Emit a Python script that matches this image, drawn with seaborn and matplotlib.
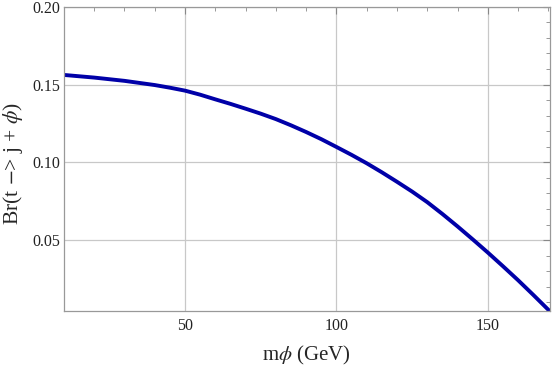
import numpy as np
import pandas as pd
import matplotlib
matplotlib.use("Agg")
import matplotlib.pyplot as plt
import seaborn as sns
from matplotlib.ticker import MultipleLocator

# values
m_phi = [10, 20, 30, 40, 45, 50, 55, 60, 65, 70, 75, 80, 85, 90, 95, 100, 105, 110, 115,
         120, 125, 130, 135, 140, 145, 150, 155, 160, 165, 170.3]
br = [0.1562, 0.1545, 0.1524, 0.1497, 0.1480, 0.1461, 0.1435, 0.1405, 0.1376, 0.1345,
      0.1313, 0.1278, 0.1238, 0.1195, 0.1149, 0.1099, 0.1048, 0.0994, 0.0936, 0.0875,
      0.0812, 0.0744, 0.0668, 0.0588, 0.0505, 0.0420, 0.0332, 0.0242, 0.0148, 0.0046]

x_ticks = [50, 100, 150]
y_ticks = [0.05, 0.10, 0.15, 0.20]
y_labels = ["0.05", "0.10", "0.15", "0.20"]

df = pd.DataFrame({"m": m_phi, "br": br})

sns.set_style("white")
plt.rcParams['font.family'] = ['Liberation Serif', 'DejaVu Serif']
plt.rcParams['mathtext.fontset'] = 'stix'

fig = plt.figure(figsize=(5.56, 3.67), dpi=100)
ax = fig.add_axes([0.115, 0.1534, 0.874, 0.828])

sns.lineplot(data=df, x="m", y="br", ax=ax, color="#0000a8", linewidth=2.8)

ax.set_xlim(10, 170.5)
ax.set_ylim(0.0046, 0.20)
ax.set_xticks(x_ticks)
ax.set_yticks(y_ticks)
ax.set_yticklabels(y_labels)
ax.xaxis.set_minor_locator(MultipleLocator(10))
ax.yaxis.set_minor_locator(MultipleLocator(0.01))

ax.grid(True, which="major", color="#c8c8c8", linewidth=0.9)
ax.set_axisbelow(True)
for s in ax.spines.values():
    s.set_color("#999999")
    s.set_linewidth(0.9)

ax.tick_params(which="both", direction="in", top=True, right=True, color="#888888",
               labelsize=11.5, labelcolor="#222222")
ax.tick_params(which="major", length=5)
ax.tick_params(axis="y", which="major", pad=3)
ax.tick_params(axis="x", which="major", pad=5)
ax.tick_params(which="minor", length=3)

ax.set_xlabel(r"m$\phi$ (GeV)", fontsize=15)
ax.set_ylabel(r"Br(t $-$> j + $\phi$)", fontsize=15.5)
ax.xaxis.set_label_coords(0.5, -0.108)
ax.yaxis.set_label_coords(-0.08, 0.485)

fig.savefig("out.png", dpi=100)
